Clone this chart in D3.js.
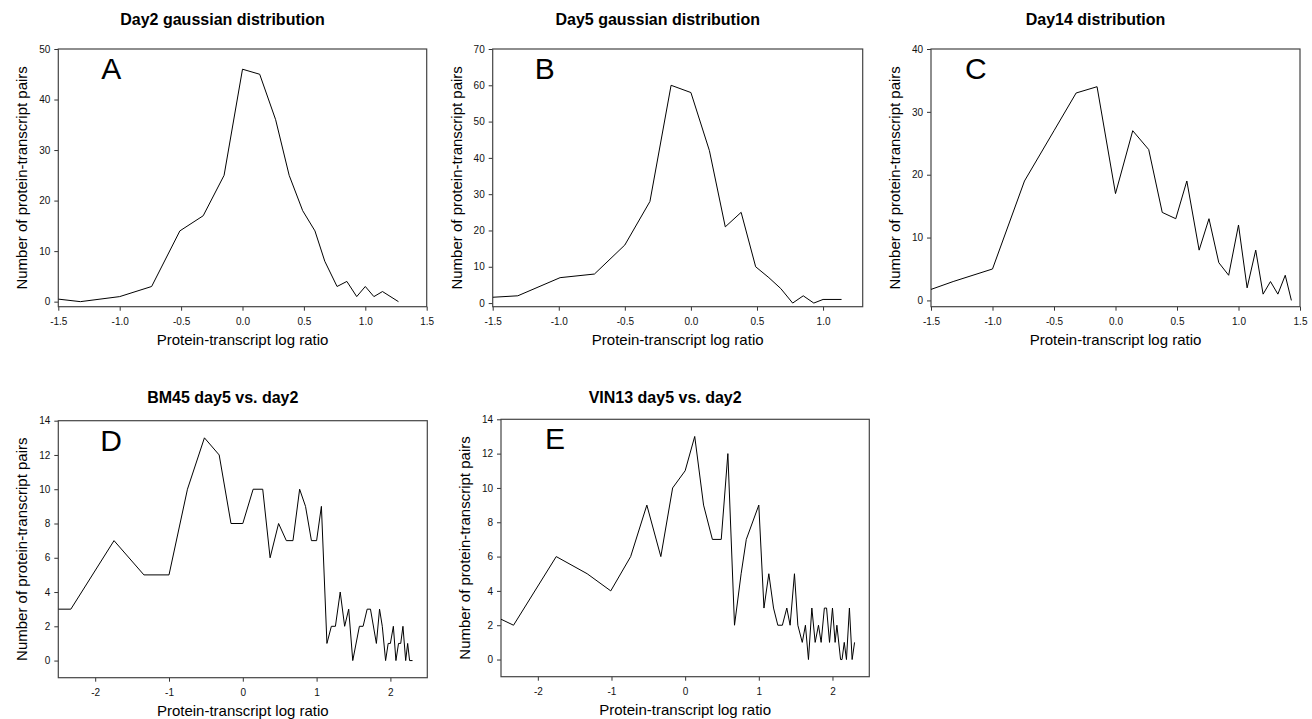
<!DOCTYPE html>
<html>
<head>
<meta charset="utf-8">
<script src="https://cdn.jsdelivr.net/npm/d3@7"></script>
<style>
  body { margin: 0; background: #fff; }
  svg { display: block; font-family: "Liberation Sans", Arial, sans-serif; }
</style>
</head>
<body>
<div id="chart"></div>
<script>
// Day2 gaussian distribution
const day2Ratio = [-1.5, -1.32, -1.0, -0.74, -0.51, -0.32, -0.15, 0.0, 0.14, 0.27, 0.38, 0.49, 0.59, 0.67, 0.77, 0.85, 0.93, 1.0, 1.07, 1.14, 1.27];
const day2Count = [0.5, 0, 1, 3, 14, 17, 25, 46, 45, 36, 25, 18, 14, 8, 3, 4, 1, 3, 1, 2, 0];

// Day5 gaussian distribution
const day5Ratio = [-1.5, -1.31, -0.99, -0.73, -0.5, -0.31, -0.15, 0.0, 0.14, 0.26, 0.38, 0.49, 0.59, 0.68, 0.77, 0.85, 0.93, 1.0, 1.14];
const day5Count = [1.6, 2, 7, 8, 16, 28, 60, 58, 42, 21, 25, 10, 7, 4, 0, 2, 0, 1, 1];

// Day14 distribution
const day14Ratio = [-1.5, -1.32, -1.0, -0.74, -0.5, -0.32, -0.15, 0.0, 0.14, 0.27, 0.38, 0.49, 0.58, 0.68, 0.76, 0.84, 0.92, 1.0, 1.07, 1.14, 1.2, 1.26, 1.32, 1.38, 1.43];
const day14Count = [1.75, 3, 5, 19, 27, 33, 34, 17, 27, 24, 14, 13, 19, 8, 13, 6, 4, 12, 2, 8, 1, 3, 1, 4, 0];

// BM45 day5 vs. day2
const bm45Ratio = [-2.5, -2.33, -1.745, -1.34, -1.0, -0.75, -0.52, -0.32, -0.16, 0.0, 0.14, 0.27, 0.37, 0.485, 0.59, 0.68, 0.77, 0.85, 0.93, 1.0,
  1.065, 1.14, 1.2, 1.255, 1.32, 1.38, 1.435, 1.49, 1.58, 1.63, 1.685, 1.73, 1.81, 1.853, 1.89, 1.935, 1.97, 2.0, 2.04, 2.075,
  2.11, 2.14, 2.17, 2.207, 2.234, 2.26, 2.30];
const bm45Count = [3, 3, 7, 5, 5, 10, 13, 12, 8, 8, 10, 10, 6, 8, 7, 7, 10, 9, 7, 7,
  9, 1, 2, 2, 4, 2, 3, 0, 2, 2, 3, 3, 1, 3, 2, 0, 1, 1, 2, 0,
  1, 1, 2, 0, 1, 0, 0];

// VIN13 day5 vs. day2
const vin13Ratio = [-2.5, -2.33, -1.75, -1.33, -1.01, -0.74, -0.52, -0.33, -0.17, 0.0, 0.13, 0.25, 0.37, 0.49, 0.58, 0.67, 0.76, 0.83, 1.0, 1.07,
  1.136, 1.2, 1.258, 1.32, 1.38, 1.425, 1.484, 1.53, 1.59, 1.633, 1.674, 1.72, 1.765, 1.81, 1.846, 1.89, 1.92, 1.96, 2.0, 2.036,
  2.06, 2.11, 2.13, 2.16, 2.19, 2.23, 2.267, 2.3];
const vin13Count = [2.35, 2, 6, 5, 4, 6, 9, 6, 10, 11, 13, 9, 7, 7, 12, 2, 5, 7, 9, 3,
  5, 3, 2, 2, 3, 2, 5, 2, 1, 2, 0, 3, 1, 2, 1, 3, 3, 1, 3, 1,
  2, 0, 0, 1, 0, 3, 0, 1];

// tick values
const xTicksWide = [-1.5, -1.0, -0.5, 0.0, 0.5, 1.0, 1.5];
const xTicksDay5 = [-1.5, -1.0, -0.5, 0.0, 0.5, 1.0];
const xTicksRow2 = [-2, -1, 0, 1, 2];
const yTicksDay2 = [0, 10, 20, 30, 40, 50];
const yTicksDay5 = [0, 10, 20, 30, 40, 50, 60, 70];
const yTicksDay14 = [0, 10, 20, 30, 40];
const yTicksRow2 = [0, 2, 4, 6, 8, 10, 12, 14];

const yLabel = "Number of protein-transcript pairs";
const xLabel = "Protein-transcript log ratio";

const width = 1312, height = 719;
const fmt1 = d => d.toFixed(1);
const fmt0 = d => String(d);

const panels = [
  { letter: "A", title: "Day2 gaussian distribution", xs: day2Ratio, ys: day2Count,
    box: [58.3, 49, 426.7, 306.7], xDomain: [-1.5, 1.5], yDomain: [-1, 50],
    xTicks: xTicksWide, yTicks: yTicksDay2, xFmt: fmt1, letterDx: 43, titleY: 25 },
  { letter: "B", title: "Day5 gaussian distribution", xs: day5Ratio, ys: day5Count,
    box: [492.7, 49, 862.7, 306.7], xDomain: [-1.5, 1.3], yDomain: [-1, 70],
    xTicks: xTicksDay5, yTicks: yTicksDay5, xFmt: fmt1, letterDx: 42, titleY: 25 },
  { letter: "C", title: "Day14 distribution", xs: day14Ratio, ys: day14Count,
    box: [931, 49, 1300, 306.7], xDomain: [-1.5, 1.5], yDomain: [-1, 40],
    xTicks: xTicksWide, yTicks: yTicksDay14, xFmt: fmt1, letterDx: 34, titleY: 25 },
  { letter: "D", title: "BM45 day5 vs. day2", xs: bm45Ratio, ys: bm45Count,
    box: [58.3, 420.7, 427.3, 677.7], xDomain: [-2.5, 2.5], yDomain: [-1, 14],
    xTicks: xTicksRow2, yTicks: yTicksRow2, xFmt: fmt0, letterDx: 42, titleY: 403 },
  { letter: "E", title: "VIN13 day5 vs. day2", xs: vin13Ratio, ys: vin13Count,
    box: [501, 419.3, 869.3, 676.7], xDomain: [-2.5, 2.5], yDomain: [-1, 14],
    xTicks: xTicksRow2, yTicks: yTicksRow2, xFmt: fmt0, letterDx: 44, titleY: 403 }
];

const svg = d3.select("#chart")
  .append("svg")
  .attr("width", width)
  .attr("height", height);

panels.forEach((p, i) => {
  const [x0, y0, x1, y1] = p.box;
  const x = d3.scaleLinear().domain(p.xDomain).range([x0, x1]);
  const y = d3.scaleLinear().domain(p.yDomain).range([y1, y0]);
  const g = svg.append("g");

  // title
  g.append("text")
    .attr("x", (x0 + x1) / 2 - 20)
    .attr("y", p.titleY)
    .attr("text-anchor", "middle")
    .style("font-size", "16px")
    .style("font-weight", "bold")
    .text(p.title);

  // axes
  const xAxis = g.append("g")
    .attr("transform", `translate(0,${y1})`)
    .call(d3.axisBottom(x).tickValues(p.xTicks).tickFormat(p.xFmt).tickSize(4).tickPadding(7));
  const yAxis = g.append("g")
    .attr("transform", `translate(${x0},0)`)
    .call(d3.axisLeft(y).tickValues(p.yTicks).tickFormat(fmt0).tickSize(4).tickPadding(4));
  [xAxis, yAxis].forEach(a => {
    a.select(".domain").remove();
    a.selectAll(".tick line").attr("stroke", "#333");
    a.selectAll(".tick text")
      .style("font-size", "10px")
      .style("font-family", '"Liberation Sans", Arial, sans-serif')
      .attr("fill", "#111");
  });

  // frame
  g.append("rect")
    .attr("x", x0).attr("y", y0)
    .attr("width", x1 - x0).attr("height", y1 - y0)
    .attr("fill", "none")
    .attr("stroke", "#444")
    .attr("stroke-width", 1.2);

  // clip + line
  g.append("clipPath").attr("id", "clip" + i)
    .append("rect")
    .attr("x", x0).attr("y", y0)
    .attr("width", x1 - x0).attr("height", y1 - y0);

  const pts = p.xs.map((v, k) => [v, p.ys[k]]);
  g.append("path")
    .datum(pts)
    .attr("clip-path", `url(#clip${i})`)
    .attr("fill", "none")
    .attr("stroke", "#000")
    .attr("stroke-width", 1)
    .attr("d", d3.line().x(d => x(d[0])).y(d => y(d[1])));

  // panel letter
  g.append("text")
    .attr("x", x0 + p.letterDx)
    .attr("y", y0 + 30)
    .style("font-size", "30px")
    .text(p.letter);

  // axis labels
  g.append("text")
    .attr("x", (x0 + x1) / 2)
    .attr("y", y1 + 38)
    .attr("text-anchor", "middle")
    .style("font-size", "15px")
    .text(xLabel);

  g.append("text")
    .attr("transform", `translate(${x0 - 31},${(y0 + y1) / 2}) rotate(-90)`)
    .attr("text-anchor", "middle")
    .style("font-size", "15px")
    .text(yLabel);
});
</script>
</body>
</html>
